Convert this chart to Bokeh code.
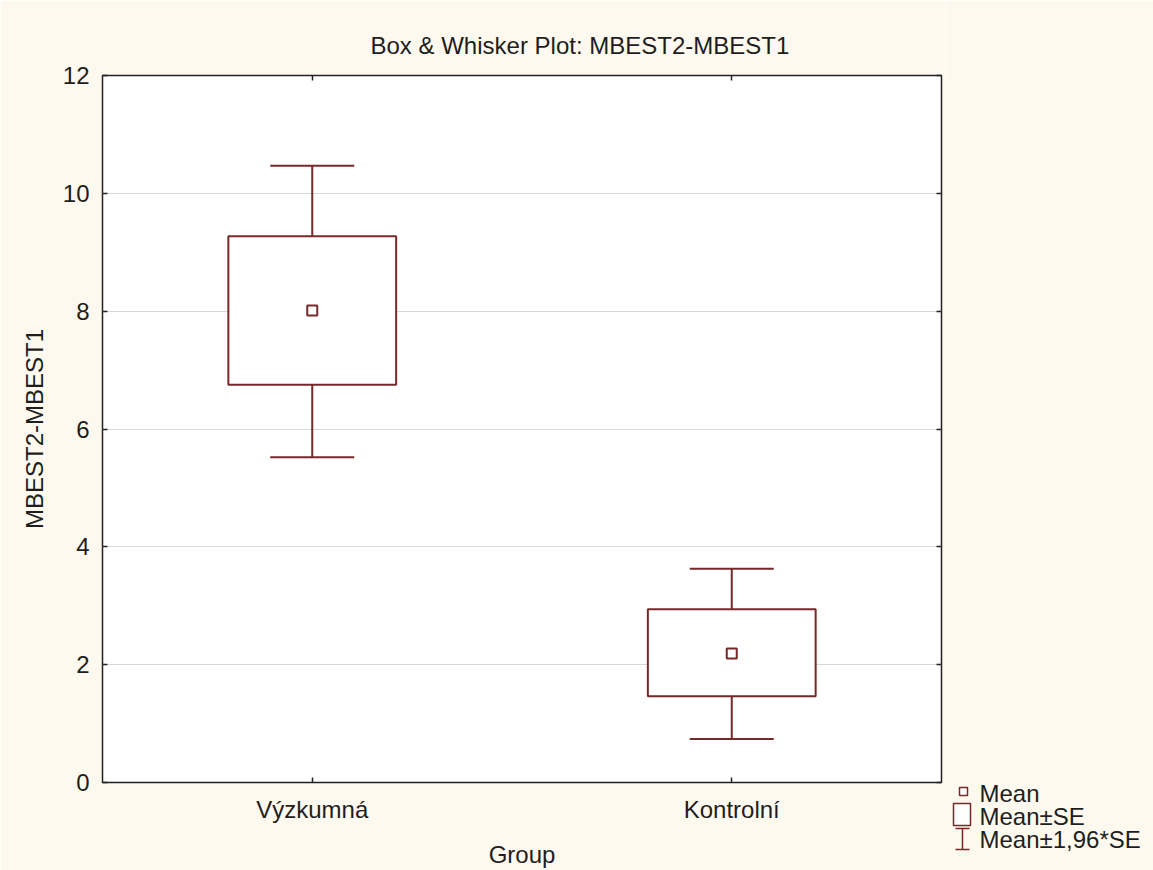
from bokeh.plotting import figure
from bokeh.layouts import row
from bokeh.models import (FactorRange, Range1d, FixedTicker, LinearAxis, CategoricalAxis,
                          Whisker, TeeHead, ColumnDataSource, Title)
from bokeh.core.properties import value
from bokeh.embed import file_html
from bokeh.resources import INLINE

# ---- data ----
groups = ["Výzkumná", "Kontrolní"]
means = [8.01, 2.19]
se_upper = [9.27, 2.94]
se_lower = [6.75, 1.465]
ci_upper = [10.47, 3.63]
ci_lower = [5.52, 0.74]
y_ticks = [0, 2, 4, 6, 8, 10, 12]
legend_labels = ["Mean", "Mean±SE", "Mean±1,96*SE"]
title_text = "Box & Whisker Plot: MBEST2-MBEST1"
x_label = "Group"
y_label = "MBEST2-MBEST1"

COLOR = "#772828"
BG = "#FEF9EF"
FONT = "Liberation Sans"
FS = "24px"
TXT = "#1e1e1e"

src = ColumnDataSource(dict(group=groups, mean=means, se_hi=se_upper, se_lo=se_lower,
                            ci_hi=ci_upper, ci_lo=ci_lower))

MAIN_W = 945
TOTAL_W, TOTAL_H = 1153, 870
TOP_B = 75
FRAME_H = 707

p = figure(x_range=FactorRange(factors=groups), y_range=Range1d(0, 12),
           frame_width=839, frame_height=FRAME_H,
           min_border_left=102, min_border_right=MAIN_W - 102 - 839,
           min_border_top=TOP_B, min_border_bottom=TOTAL_H - TOP_B - FRAME_H,
           output_backend="svg", toolbar_location=None,
           background_fill_color="white", border_fill_color=BG,
           outline_line_color="#222222", outline_line_width=1.5)

p.title = Title(text=title_text, align="left", offset=268, standoff=34,
                text_font=FONT, text_font_size=FS, text_font_style="normal", text_color=TXT)

xa = p.xaxis[0]
ya = p.yaxis[0]
ya.ticker = FixedTicker(ticks=y_ticks)
xa.axis_label = x_label
ya.axis_label = y_label
xa.major_label_standoff = 13
ya.major_label_standoff = 13
xa.axis_label_standoff = 15
ya.axis_label_standoff = 12

top = CategoricalAxis()
right = LinearAxis(ticker=FixedTicker(ticks=y_ticks))
p.add_layout(top, "above")
p.add_layout(right, "right")

for ax in [xa, ya, top, right]:
    ax.major_tick_in = 5
    ax.major_tick_out = 0
    ax.minor_tick_line_color = None
    ax.axis_line_color = None
    ax.major_tick_line_color = "#222222"
    ax.major_tick_line_width = 1.5
    ax.major_label_text_font = FONT
    ax.major_label_text_font_size = FS
    ax.major_label_text_color = TXT
    ax.axis_label_text_font = FONT
    ax.axis_label_text_font_size = FS
    ax.axis_label_text_font_style = "normal"
    ax.axis_label_text_color = TXT
for ax in [top, right]:
    ax.major_label_text_font_size = "0px"
    ax.major_label_text_color = None
    ax.major_label_standoff = 0

p.xgrid.visible = False
p.ygrid.ticker = FixedTicker(ticks=y_ticks)
p.ygrid.grid_line_color = "#D8D8D8"
p.ygrid.grid_line_width = 1

# whiskers (Mean±1,96*SE)
w = Whisker(source=src, base="group", upper="ci_hi", lower="ci_lo", dimension="height",
            level="underlay", line_color=COLOR, line_width=2,
            upper_head=TeeHead(size=84, line_color=COLOR, line_width=2),
            lower_head=TeeHead(size=84, line_color=COLOR, line_width=2))
p.add_layout(w)

# boxes (Mean±SE)
p.vbar(x="group", width=0.4, top="se_hi", bottom="se_lo", source=src,
       fill_color="white", line_color=COLOR, line_width=2)

# means
p.scatter(x="group", y="mean", source=src, marker="square", size=10,
          fill_color="white", line_color=COLOR, line_width=2)

# ---- legend panel to the right (page-pixel coordinate system, y downwards) ----
leg = figure(x_range=Range1d(MAIN_W, TOTAL_W), y_range=Range1d(TOTAL_H, TOP_B),
             frame_width=TOTAL_W - MAIN_W, frame_height=TOTAL_H - TOP_B,
             min_border=0, min_border_top=TOP_B, min_border_bottom=0,
             x_axis_type=None, y_axis_type=None,
             output_backend="svg", toolbar_location=None,
             background_fill_color=BG, border_fill_color=BG, outline_line_color=None)
leg.grid.visible = False

row_base = [802, 825, 848]   # text baselines of the three legend rows
sym_x = 962                  # centre of the legend symbols
txt_x = 979

# Mean symbol
leg.scatter(x=[sym_x + 1], y=[row_base[0] - 11], marker="square", size=8,
            fill_color="white", line_color=COLOR, line_width=1.5)
# Mean±SE symbol
leg.quad(left=[sym_x - 9], right=[sym_x + 8], top=[row_base[1] - 22], bottom=[row_base[1]],
         fill_color="white", line_color=COLOR, line_width=1.5)
# Mean±1,96*SE symbol (I-beam)
y_top, y_bot = row_base[2] - 20, row_base[2] + 1
leg.segment(x0=[sym_x, sym_x - 7, sym_x - 7], y0=[y_top, y_top, y_bot],
            x1=[sym_x, sym_x + 7, sym_x + 7], y1=[y_bot, y_top, y_bot],
            line_color=COLOR, line_width=1.5)

leg.text(x=[txt_x] * 3, y=row_base, text=legend_labels, y_offset=-9,
         text_font=value(FONT), text_font_size=FS, text_color=TXT,
         text_baseline="alphabetic", text_align="left")

layout = row(p, leg, spacing=0)
open("out.html", "w").write(file_html(layout, INLINE))
